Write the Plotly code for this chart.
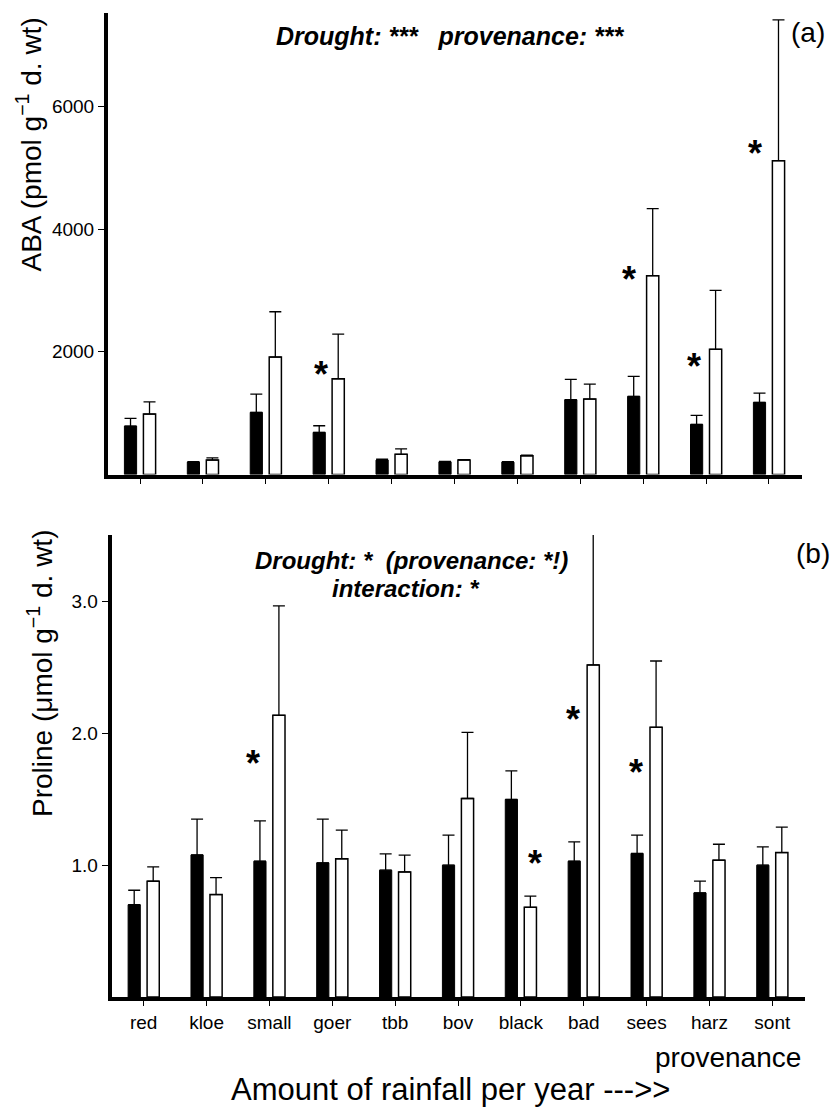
import plotly.graph_objects as go

W, H = 835, 1108

provenances = ["red", "kloe", "small", "goer", "tbb", "bov", "black", "bad", "sees", "harz", "sont"]

# Panel (a): ABA (pmol g-1 d. wt)
aba_control = [789, 202, 1012, 686, 235, 207, 202, 1218, 1273, 816, 1175]
aba_control_se = [125, 8, 298, 108, 16, 8, 8, 332, 326, 147, 152]
aba_drought = [984, 235, 1914, 1560, 328, 235, 305, 1229, 3239, 2039, 5113]
aba_drought_se = [201, 37, 738, 728, 91, 5, 11, 244, 1092, 962, 2294]
aba_ticks = [2000, 4000, 6000]
aba_stars = [("goer", 1756), ("sees", 3304), ("harz", 1892), ("sont", 5369)]

# Panel (b): Proline (umol g-1 d. wt)
pro_control = [0.70, 1.078, 1.030, 1.018, 0.962, 1.00, 1.499, 1.030, 1.089, 0.790, 1.00]
pro_control_se = [0.11, 0.271, 0.306, 0.331, 0.124, 0.228, 0.217, 0.147, 0.139, 0.089, 0.139]
pro_drought = [0.879, 0.777, 2.137, 1.048, 0.949, 1.506, 0.68, 2.519, 2.046, 1.038, 1.096]
pro_drought_se = [0.108, 0.129, 0.83, 0.218, 0.127, 0.502, 0.085, 0.99, 0.503, 0.121, 0.193]
pro_ticks = [1.0, 2.0, 3.0]
pro_stars = [("small", 1.835), ("black", 1.076), ("bad", 2.164), ("sees", 1.765)]

FONT = "Liberation Sans, Arial, Helvetica, sans-serif"


def px_x(p):
    return p / W


def px_y(p):
    return 1 - p / H


fig = go.Figure()


def add_pair(ctrl, ctrl_se, dr, dr_se, xa, ya):
    fig.add_trace(go.Bar(
        x=provenances, y=ctrl, xaxis=xa, yaxis=ya, name="control",
        marker=dict(color="black", line=dict(color="black", width=1)),
        error_y=dict(type="data", symmetric=False, array=ctrl_se,
                     arrayminus=[0] * len(ctrl_se), color="black",
                     thickness=1.3, width=6),
        showlegend=False))
    fig.add_trace(go.Bar(
        x=provenances, y=dr, xaxis=xa, yaxis=ya, name="drought",
        marker=dict(color="white", line=dict(color="black", width=1.5)),
        error_y=dict(type="data", symmetric=False, array=dr_se,
                     arrayminus=[0] * len(dr_se), color="black",
                     thickness=1.3, width=6),
        showlegend=False))


add_pair(aba_control, aba_control_se, aba_drought, aba_drought_se, "x", "y")
add_pair(pro_control, pro_control_se, pro_drought, pro_drought_se, "x2", "y2")

axis_common = dict(showline=True, linecolor="black", linewidth=4,
                   showgrid=False, zeroline=False, ticks="outside",
                   tickcolor="black", tickwidth=1,
                   tickfont=dict(family=FONT, size=19, color="black"))

xrange = [-0.509, 10.52]

fig.update_layout(
    width=W, height=H, autosize=False,
    margin=dict(l=0, r=0, t=0, b=0),
    paper_bgcolor="white", plot_bgcolor="white",
    barmode="group", bargap=0.396, bargroupgap=0.358,
    font=dict(family=FONT, color="black"),
    xaxis=dict(axis_common, domain=[px_x(108), px_x(801.7)], anchor="y",
               range=xrange, ticklen=5, showticklabels=False,
               type="category", categoryorder="array", categoryarray=provenances),
    yaxis=dict(axis_common, domain=[px_y(474.5), px_y(13)], anchor="x",
               range=[0, 7520], tickvals=aba_ticks, ticklen=6),
    xaxis2=dict(axis_common, domain=[px_x(111.7), px_x(805)], anchor="y2",
                range=xrange, ticklen=5, type="category",
                categoryorder="array", categoryarray=provenances),
    yaxis2=dict(axis_common, domain=[px_y(997), px_y(535)], anchor="x2",
                range=[0, 3.505], tickvals=pro_ticks, tickformat=".1f", ticklen=6),
)

ann = []


def txt(text, x, y, size, bold=False, italic=False, angle=0, xanchor="center"):
    t = text
    if bold:
        t = "<b>" + t + "</b>"
    if italic:
        t = "<i>" + t + "</i>"
    ann.append(dict(text=t, x=px_x(x), y=px_y(y), xref="paper", yref="paper",
                    showarrow=False, textangle=angle, xanchor=xanchor, yanchor="middle",
                    font=dict(family=FONT, size=size, color="black")))


txt("Drought: ***&nbsp;&nbsp;&nbsp;provenance: ***", 450, 36, 25, bold=True, italic=True)
txt("(a)", 808, 33, 28)
txt("ABA (pmol g<sup>−1</sup> d. wt)", 29.5, 145, 28, angle=-90)

txt("Drought: *&nbsp;&nbsp;(provenance: *!)", 411.7, 560, 24, bold=True, italic=True)
txt("interaction: *", 405.8, 588, 24, bold=True, italic=True)
txt("(b)", 813, 553, 28)
txt("Proline (μmol g<sup>−1</sup> d. wt)", 40, 674, 28, angle=-90)

txt("provenance", 728, 1057, 28)
txt("Amount of rainfall per year --->>", 450, 1089, 31)

star_shift_a = {"goer": -8, "sees": -14, "harz": -12, "sont": -14}
for cat, val in aba_stars:
    ann.append(dict(text="<b>*</b>", x=cat, y=val, xref="x", yref="y",
                    showarrow=False, xanchor="center", yanchor="middle",
                    xshift=star_shift_a[cat], yshift=-8,
                    font=dict(family=FONT, size=36, color="black")))

star_shift_b = {"small": -16, "black": 14, "bad": -11, "sees": -11}
for cat, val in pro_stars:
    ann.append(dict(text="<b>*</b>", x=cat, y=val, xref="x2", yref="y2",
                    showarrow=False, xanchor="center", yanchor="middle",
                    xshift=star_shift_b[cat], yshift=-8,
                    font=dict(family=FONT, size=36, color="black")))

fig.update_layout(annotations=ann)

fig.write_html("out.html")
